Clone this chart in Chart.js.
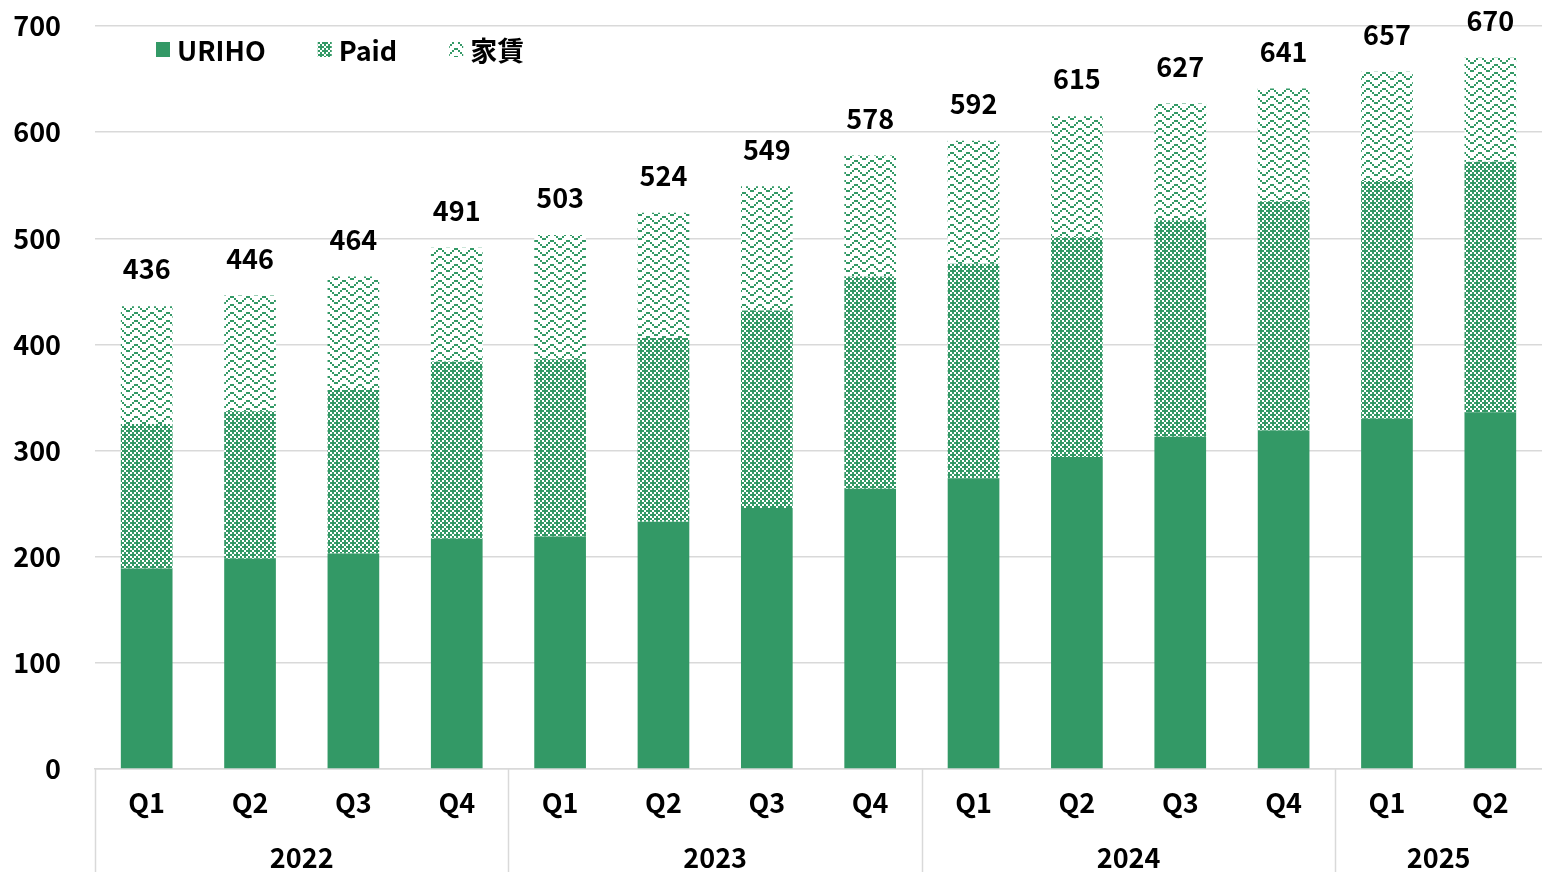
<!DOCTYPE html>
<html>
<head>
<meta charset="utf-8">
<script src="https://cdn.jsdelivr.net/npm/chart.js@4/dist/chart.umd.min.js"></script>
<style>
  html, body { margin: 0; padding: 0; background: #fff; overflow: hidden; }
  #wrap { position: absolute; left: 0; top: 0; width: 1542px; height: 873px; }
</style>
</head>
<body>
<div id="wrap"><canvas id="chart"></canvas></div>
<script>
// quarters and their year groups
const quarters = ['Q1', 'Q2', 'Q3', 'Q4', 'Q1', 'Q2', 'Q3', 'Q4', 'Q1', 'Q2', 'Q3', 'Q4', 'Q1', 'Q2'];
const years = ['2022', '2023', '2024', '2025'];
const yearCenters = [1.5, 5.5, 9.5, 12.5];   // middle of each year's quarters (index units)
const yearStarts = [0, 4, 8, 12];           // first quarter index of each year

// stacked series
const uriho = [189, 198, 203, 217, 219, 233, 246, 264, 274, 294, 313, 319, 330, 336];
const paid  = [136, 139, 154, 167, 167, 173, 186, 200, 202, 207, 204, 216, 224, 236];
const rent  = [111, 109, 107, 107, 117, 118, 117, 114, 116, 114, 110, 106, 103, 98];
const totals = [436, 446, 464, 491, 503, 524, 549, 578, 592, 615, 627, 641, 657, 670];

const yTicks = [0, 100, 200, 300, 400, 500, 600, 700];

const GREEN = '#339966';
const GRID = '#d9d9d9';
const FONT = "'Noto Sans CJK JP', 'Noto Sans', sans-serif";
const FS = 27;

// Excel-style hatch fills: 2px cells on a small tile
function makePattern(cells) {
    const cell = 2;
    const c = document.createElement('canvas');
    c.width = cells[0].length * cell;
    c.height = cells.length * cell;
    const g = c.getContext('2d');
    g.fillStyle = '#fff';
    g.fillRect(0, 0, c.width, c.height);
    g.fillStyle = GREEN;
    cells.forEach((row, r) => {
        [...row].forEach((ch, k) => {
            if (ch === '#') g.fillRect(k * cell, r * cell, cell, cell);
        });
    });
    return g.createPattern(c, 'repeat');
}

const paidFill = makePattern([
    '#.#.',
    '.###',
    '#.#.',
    '##.#',
]);
// zig zag
const rentFill = makePattern([
    '...##...',
    '..#..#..',
    '.#....#.',
    '#......#',
]);

Chart.defaults.font.family = FONT;
Chart.defaults.font.weight = 'bold';
Chart.defaults.font.size = FS;
Chart.defaults.color = '#000';

// legend drawn inside the plot, top-left, like the original
const innerLegend = {
    id: 'innerLegend',
    afterDraw(chart) {
        const { ctx, chartArea } = chart;
        let x = chartArea.left + 61;
        const cy = chartArea.top + 24;
        ctx.save();
        ctx.font = `bold ${FS}px ${FONT}`;
        ctx.textBaseline = 'middle';
        chart.data.datasets.forEach(ds => {
            ctx.fillStyle = ds.backgroundColor;
            ctx.fillRect(x, cy - 8, 14, 15);
            ctx.fillStyle = '#000';
            ctx.fillText(ds.label, x + 21, cy + 1);
            x += 21 + ctx.measureText(ds.label).width + 52;
        });
        ctx.restore();
    }
};

// totals above each stack
const totalLabels = {
    id: 'totalLabels',
    afterDatasetsDraw(chart) {
        const { ctx } = chart;
        const meta = chart.getDatasetMeta(chart.data.datasets.length - 1);
        ctx.save();
        ctx.font = `bold ${FS}px ${FONT}`;
        ctx.fillStyle = '#000';
        ctx.textAlign = 'center';
        ctx.textBaseline = 'middle';
        meta.data.forEach((bar, i) => {
            ctx.fillText(String(totals[i]), bar.x, bar.y - 37);
        });
        ctx.restore();
    }
};

// year group separators below the axis
const yearDividers = {
    id: 'yearDividers',
    afterDraw(chart) {
        const { ctx } = chart;
        const xs = chart.scales.x2;
        const top = chart.scales.x.top;
        ctx.save();
        ctx.strokeStyle = GRID;
        ctx.lineWidth = 1.5;
        yearStarts.forEach(s => {
            const px = Math.round(xs.getPixelForValue(s - 0.5)) + 0.5;
            ctx.beginPath();
            ctx.moveTo(px, top);
            ctx.lineTo(px, chart.height);
            ctx.stroke();
        });
        ctx.restore();
    }
};

new Chart(document.getElementById('chart'), {
    type: 'bar',
    data: {
        labels: quarters,
        datasets: [
            { label: 'URIHO', data: uriho, backgroundColor: GREEN },
            { label: 'Paid', data: paid, backgroundColor: paidFill },
            { label: '家賃', data: rent, backgroundColor: rentFill },
        ],
    },
    options: {
        responsive: true,
        maintainAspectRatio: false,
        animation: false,
        layout: { autoPadding: false, padding: { top: 26, right: 0, left: 0, bottom: 0 } },
        datasets: { bar: { barPercentage: 0.5, categoryPercentage: 1.0, borderWidth: 0 } },
        plugins: {
            legend: { display: false },
            tooltip: { enabled: false },
        },
        scales: {
            x: {
                stacked: true,
                grid: { display: false, drawTicks: false },
                border: { display: true, color: GRID, width: 1.5 },
                ticks: { padding: 18, autoSkip: false, maxRotation: 0 },
                afterFit: s => { s.height = 62; },
            },
            x2: {
                type: 'linear',
                position: 'bottom',
                min: -0.5,
                max: 13.5,
                offset: false,
                grid: { display: false, drawTicks: false },
                border: { display: false },
                afterBuildTicks: s => { s.ticks = yearCenters.map(v => ({ value: v })); },
                ticks: { padding: 11, autoSkip: false, maxRotation: 0, callback: (v, i) => years[i] },
                afterFit: s => { s.height = 42; },
            },
            y: {
                stacked: true,
                min: 0,
                max: 700,
                afterBuildTicks: s => { s.ticks = yTicks.map(v => ({ value: v })); },
                grid: { color: GRID, lineWidth: 1.5, drawTicks: false },
                border: { display: false },
                ticks: { padding: 34 },
                afterFit: s => { s.width = 95; s.paddingTop = 0; s.paddingBottom = 0; },
            },
        },
    },
    plugins: [innerLegend, totalLabels, yearDividers],
});
</script>
</body>
</html>
